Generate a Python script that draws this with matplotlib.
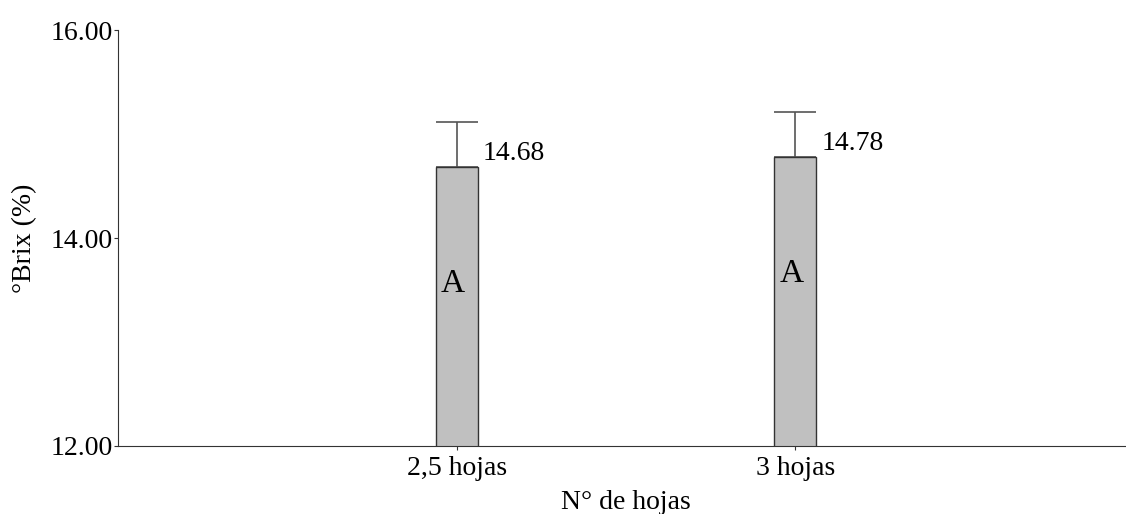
import matplotlib.pyplot as plt
import numpy as np

# data
categories = ['2,5 hojas', '3 hojas']
brix = [14.68, 14.78]
err_up = [0.44, 0.43]
letters = ['A', 'A']

plt.rcParams['font.family'] = ['Liberation Serif', 'DejaVu Serif']

fig = plt.figure(figsize=(11.26, 5.14), dpi=100)
ax = fig.add_axes([0.1048, 0.1323, 0.9023, 0.8093])

x = np.arange(1, len(categories) + 1)
width = 0.125

ax.bar(x, brix, width, bottom=0, color='#c0c0c0', edgecolor='#333333', linewidth=1, zorder=2)
ax.errorbar(x, brix, yerr=[np.zeros(len(brix)), err_up], fmt='none',
            ecolor='#555555', elinewidth=1.2, capsize=15, capthick=1.2, zorder=1)

for xi, v, lt in zip(x, brix, letters):
    ax.text(xi + width / 2 + 0.015, v + 0.07, f'{v:.2f}', fontsize=20,
            ha='left', va='baseline')
    ax.text(xi - 0.012, v - 1.12, lt, fontsize=24, ha='center', va='center')

ax.set_xlim(0, 3)
ax.set_ylim(12, 16)
ax.set_yticks([12, 14, 16])
ax.set_yticklabels(['12.00', '14.00', '16.00'])
ax.set_xticks(x)
ax.set_xticklabels(categories)
ax.tick_params(labelsize=20, length=3, color='#333333', pad=0.5)
ax.tick_params(axis='x', pad=4)

ax.set_xlabel('N° de hojas', fontsize=20, labelpad=7)
ax.set_ylabel('°Brix (%)', fontsize=20, labelpad=10)

for s in ['top', 'right']:
    ax.spines[s].set_visible(False)
for s in ['left', 'bottom']:
    ax.spines[s].set_color('#333333')

plt.savefig('out.png', dpi=100)
